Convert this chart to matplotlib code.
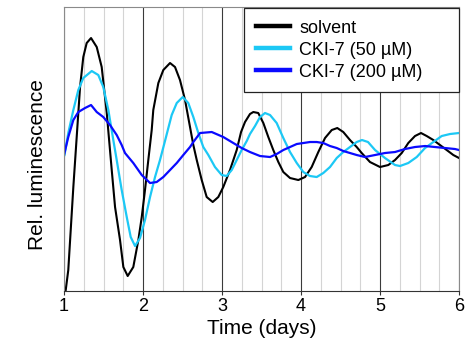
import matplotlib
matplotlib.use("Agg")
import matplotlib.pyplot as plt
from matplotlib.lines import Line2D
from matplotlib.ticker import MultipleLocator

plt.rcParams['font.family'] = ['Liberation Sans', 'DejaVu Sans']

# time in days, luminescence in arbitrary units
solvent_t = [1.02, 1.054, 1.118, 1.203, 1.244, 1.287, 1.342, 1.414, 1.477, 1.541, 1.604,
             1.646, 1.709, 1.751, 1.806, 1.877, 1.941, 1.984, 2.025, 2.067, 2.110, 2.130, 2.194,
             2.257, 2.342, 2.405, 2.468, 2.532, 2.595, 2.637, 2.680, 2.743, 2.806, 2.882, 2.953,
             3.016, 3.101, 3.186, 3.241, 3.291, 3.354, 3.396, 3.459, 3.523, 3.586, 3.649, 3.713,
             3.776, 3.861, 3.966, 4.051, 4.135, 4.219, 4.304, 4.389, 4.459, 4.535, 4.620, 4.705,
             4.768, 4.873, 5.000, 5.105, 5.190, 5.275, 5.358, 5.443, 5.519, 5.591, 5.675, 5.759,
             5.844, 5.928, 6.0]
solvent_y = [0, 21, 104, 204, 234, 248, 253, 244, 224, 178, 121,
             84, 51, 24, 15, 24, 51, 74, 101, 131, 161, 181, 208,
             221, 228, 224, 211, 191, 164, 146, 131, 111, 94, 89, 94,
             104, 121, 141, 159, 169, 177, 179, 178, 168, 154, 141, 129,
             119, 113, 111, 114, 124, 139, 153, 161, 163, 159, 151, 144,
             138, 129, 124, 126, 131, 138, 148, 155, 158, 155, 151, 146,
             141, 136, 133]

cki50_t = [1.006, 1.054, 1.118, 1.181, 1.244, 1.351, 1.434, 1.497, 1.561, 1.624, 1.667, 1.730,
           1.794, 1.844, 1.899, 1.962, 2.025, 2.089, 2.152, 2.215, 2.278, 2.363, 2.427,
           2.503, 2.573, 2.637, 2.700, 2.763, 2.827, 2.911, 2.996, 3.059, 3.123, 3.186, 3.249,
           3.313, 3.354, 3.418, 3.481, 3.544, 3.608, 3.692, 3.776, 3.861, 3.946, 4.029, 4.114,
           4.199, 4.282, 4.367, 4.452, 4.535, 4.620, 4.705, 4.772, 4.848, 4.937, 5.063, 5.190,
           5.253, 5.358, 5.465, 5.570, 5.675, 5.781, 5.886, 6.0]
cki50_y = [136, 158, 181, 201, 213, 220, 216, 204, 181, 151, 131, 101,
           74, 54, 45, 53, 71, 94, 114, 131, 150, 176, 188,
           194, 188, 174, 158, 144, 136, 124, 116, 115, 121, 131, 141,
           150, 157, 165, 174, 178, 176, 168, 153, 139, 128, 119, 115,
           114, 118, 124, 133, 139, 144, 149, 151, 149, 141, 133, 126,
           125, 128, 134, 143, 149, 155, 157, 158]

cki200_t = [1.0, 1.054, 1.118, 1.181, 1.266, 1.342, 1.414, 1.497, 1.582, 1.667, 1.730, 1.772,
            1.877, 1.984, 2.089, 2.173, 2.257, 2.342, 2.427, 2.510, 2.595, 2.637, 2.722, 2.870,
            3.016, 3.143, 3.249, 3.354, 3.481, 3.608, 3.692, 3.776, 3.861, 3.946, 4.029, 4.114,
            4.199, 4.282, 4.367, 4.452, 4.535, 4.620, 4.705, 4.810, 4.937, 5.063, 5.190, 5.316,
            5.443, 5.570, 5.696, 5.823, 5.949, 6.0]
cki200_y = [136, 154, 171, 179, 183, 186, 179, 174, 166, 156, 146, 138,
            128, 116, 108, 109, 114, 121, 128, 136, 144, 149, 158, 159,
            154, 148, 143, 139, 135, 134, 137, 141, 144, 147, 148, 149,
            149, 148, 145, 143, 140, 138, 136, 134, 136, 138, 139, 142,
            144, 145, 144, 143, 142, 141]

labels = ['solvent', 'CKI-7 (50 µM)', 'CKI-7 (200 µM)']
colors = ['black', '#1cc8f5', '#0a0aff']

fig = plt.figure(figsize=(4.69, 3.51), dpi=100)
ax = fig.add_axes([0.1365, 0.1709, 0.8422, 0.8091])

ax.plot(solvent_t, solvent_y, color=colors[0], lw=1.5)
ax.plot(cki50_t, cki50_y, color=colors[1], lw=1.6)
ax.plot(cki200_t, cki200_y, color=colors[2], lw=1.6)

ax.set_xlim(1, 6)
ax.set_ylim(0, 284)
ax.xaxis.set_major_locator(MultipleLocator(1))
ax.xaxis.set_minor_locator(MultipleLocator(0.25))
ax.grid(which='major', axis='x', color='#3a3a3a', lw=0.8, zorder=0)
ax.grid(which='minor', axis='x', color='#d4d4d4', lw=0.8, zorder=0)
ax.set_axisbelow(True)
ax.set_yticks([])
ax.tick_params(axis='x', which='major', direction='out', length=3, width=0.8,
               labelsize=13, pad=2, color='#333333')
ax.tick_params(axis='x', which='minor', length=0)

for s in ['left', 'top', 'right']:
    ax.spines[s].set_color('#8a8a8a')
    ax.spines[s].set_linewidth(0.8)
ax.spines['bottom'].set_color('#333333')
ax.spines['bottom'].set_linewidth(0.8)

ax.set_xlabel('Time (days)', fontsize=15, labelpad=3)
ax.set_ylabel('Rel. luminescence', fontsize=15)
ax.yaxis.set_label_coords(-0.043, 0.447)

handles = [Line2D([], [], color=c, lw=3.2) for c in colors]
leg = ax.legend(handles, labels, loc='upper left', bbox_to_anchor=(0.456, 0.708, 0.544, 0.289),
                mode='expand', fontsize=13, frameon=True, fancybox=False, borderaxespad=0,
                handlelength=1.9, handletextpad=0.5, labelspacing=0.28, borderpad=0.65)
leg.get_frame().set_edgecolor('#222222')
leg.get_frame().set_linewidth(0.9)
leg.get_frame().set_alpha(1)

fig.savefig('out.png', dpi=100)
